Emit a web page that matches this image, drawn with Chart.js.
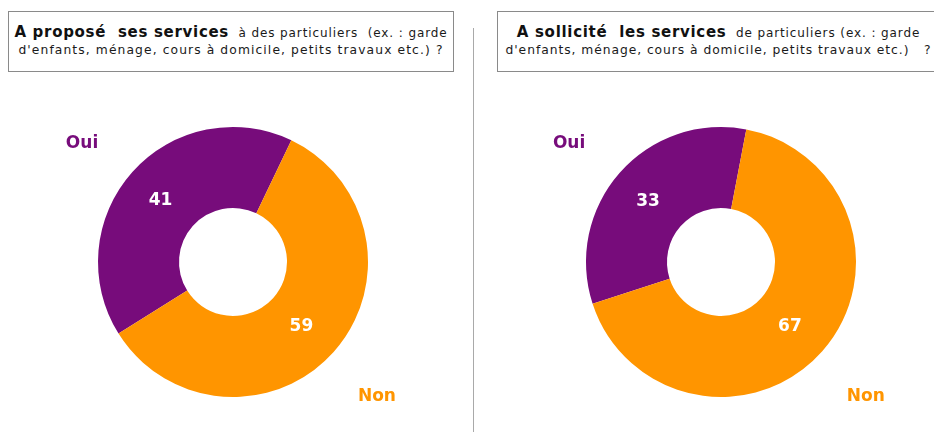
<!DOCTYPE html>
<html lang="fr">
<head>
<meta charset="utf-8">
<script src="https://cdn.jsdelivr.net/npm/chart.js@4"></script>
<style>
  html, body { margin: 0; padding: 0; background: #fff; overflow: hidden; }
  body { width: 934px; height: 432px; position: relative; font-family: "DejaVu Sans", Verdana, sans-serif; }
  .titre {
    position: absolute; top: 11px; height: 61px; box-sizing: border-box;
    border: 1.5px solid #8a8a8a; background: #fff; color: #1a1a1a;
    text-align: center; white-space: nowrap;
  }
  .titre div { position: absolute; left: 0; right: 0; }
  .l1 { top: 10px; font-size: 12px; letter-spacing: 0.9px; line-height: 20px; }
  .l2 { top: 30px; font-size: 12.3px; letter-spacing: 1.1px; line-height: 17px; }
  .titre b { font-size: 15px; letter-spacing: 0.7px; color: #111; }
  #titre1 { left: 8px; width: 446px; }
  #titre2 { left: 497px; width: 443px; }
  #titre2 .l2 { letter-spacing: 0.95px; }
  .sep { position: absolute; left: 473px; top: 28px; width: 1px; height: 404px; background: #a9a9a9; }
  .bloc { position: absolute; top: 92px; width: 400px; height: 340px; }
  #bloc1 { left: 33px; }
  #bloc2 { left: 521px; }
</style>
</head>
<body>
<div class="titre" id="titre1">
  <div class="l1"><b>A proposé&nbsp; ses services</b>&nbsp; à des particuliers&nbsp; (ex. : garde</div>
  <div class="l2">d'enfants, ménage, cours à domicile, petits travaux etc.) ?</div>
</div>
<div class="titre" id="titre2">
  <div class="l1"><b>A sollicité&nbsp; les services</b>&nbsp; de particuliers (ex. : garde</div>
  <div class="l2">d'enfants, ménage, cours à domicile, petits travaux etc.)&nbsp;&nbsp; ?</div>
</div>
<div class="sep"></div>
<div class="bloc" id="bloc1"><canvas id="donut-propose"></canvas></div>
<div class="bloc" id="bloc2"><canvas id="donut-sollicite"></canvas></div>

<script>
// Réponses en %
const REPONSES   = ['Oui', 'Non'];
const PROPOSE    = [41, 59];
const SOLLICITE  = [33, 67];
const COULEURS   = ['#770c7b', '#ff9500'];

// Étiquettes : valeur au milieu de l'anneau, libellé à l'extérieur
const etiquettes = {
  id: 'etiquettes',
  afterDraw(chart) {
    const { ctx } = chart;
    const meta = chart.getDatasetMeta(0);
    const data = chart.data.datasets[0].data;
    ctx.save();
    ctx.textAlign = 'center';
    ctx.textBaseline = 'middle';
    meta.data.forEach((arc, i) => {
      const p = arc.tooltipPosition();
      ctx.font = 'bold 17px "DejaVu Sans", Verdana, sans-serif';
      ctx.fillStyle = '#fff';
      ctx.fillText(String(data[i]), p.x - 2, p.y + 2);

      // libellé : en haut à gauche pour Oui, en bas à droite pour Non
      const mid = (arc.startAngle + arc.endAngle) / 2;
      const r = arc.outerRadius;
      const x = arc.x + Math.cos(mid) * r * (i === 0 ? 1.5 : 1.43);
      const y = arc.y + r * (i === 0 ? -0.88 : 1.0);
      ctx.font = 'bold 17px "DejaVu Sans", Verdana, sans-serif';
      ctx.fillStyle = COULEURS[i];
      ctx.fillText(REPONSES[i], x, y);
    });
    ctx.restore();
  },
};

function donut(id, valeurs, rotation) {
  const ctx = document.getElementById(id).getContext('2d');
  return new Chart(ctx, {
    type: 'doughnut',
    data: {
      labels: REPONSES,
      datasets: [{ data: valeurs, backgroundColor: COULEURS, borderWidth: 0 }],
    },
    options: {
      responsive: true,
      maintainAspectRatio: false,
      animation: false,
      rotation,
      cutout: '40%',
      layout: { padding: 35 },
      plugins: { legend: { display: false }, tooltip: { enabled: false } },
    },
    plugins: [etiquettes],
  });
}

donut('donut-propose', PROPOSE, -122);
donut('donut-sollicite', SOLLICITE, -108);
</script>
</body>
</html>
